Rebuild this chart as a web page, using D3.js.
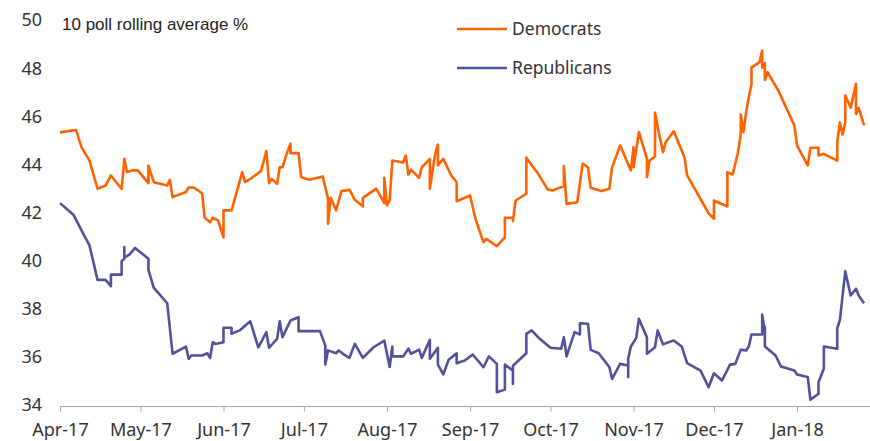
<!DOCTYPE html>
<html>
<head>
<meta charset="utf-8">
<script src="https://cdn.jsdelivr.net/npm/d3@7"></script>
<style>
  body { margin: 0; background: #fff; }
</style>
</head>
<body>
<div id="chart"></div>
<script>
// 10 poll rolling average, %
const democrats = [
  ["2017-04-01", 45.35], ["2017-04-07", 45.45], ["2017-04-09", 44.74], ["2017-04-12", 44.18],
  ["2017-04-15", 43.01], ["2017-04-18", 43.14], ["2017-04-20", 43.56], ["2017-04-24", 43.00],
  ["2017-04-25", 44.25], ["2017-04-26", 43.70], ["2017-04-28", 43.77], ["2017-04-30", 43.77],
  ["2017-05-04", 43.24], ["2017-05-04", 43.97], ["2017-05-06", 43.28], ["2017-05-11", 43.14],
  ["2017-05-12", 43.38], ["2017-05-13", 42.66], ["2017-05-18", 42.87], ["2017-05-19", 43.07],
  ["2017-05-21", 43.05], ["2017-05-24", 42.82], ["2017-05-25", 41.80], ["2017-05-27", 41.62],
  ["2017-05-28", 41.80], ["2017-05-30", 41.69], ["2017-06-01", 40.99], ["2017-06-01", 42.11],
  ["2017-06-04", 42.11], ["2017-06-08", 43.70], ["2017-06-09", 43.28], ["2017-06-11", 43.42],
  ["2017-06-15", 43.74], ["2017-06-17", 44.57], ["2017-06-18", 43.24], ["2017-06-19", 43.42],
  ["2017-06-21", 43.21], ["2017-06-22", 43.90], ["2017-06-23", 43.90], ["2017-06-25", 44.60],
  ["2017-06-26", 44.88], ["2017-06-26", 44.49], ["2017-06-29", 44.49], ["2017-06-30", 43.49],
  ["2017-07-03", 43.38], ["2017-07-08", 43.52], ["2017-07-10", 42.59], ["2017-07-10", 41.55],
  ["2017-07-11", 42.63], ["2017-07-13", 42.11], ["2017-07-15", 42.91], ["2017-07-18", 42.97],
  ["2017-07-20", 42.55], ["2017-07-23", 42.28], ["2017-07-23", 42.63], ["2017-07-28", 43.01],
  ["2017-07-31", 42.41], ["2017-07-31", 43.46], ["2017-08-01", 42.32], ["2017-08-02", 42.52],
  ["2017-08-03", 44.18], ["2017-08-07", 44.10], ["2017-08-08", 44.39], ["2017-08-09", 43.60],
  ["2017-08-10", 43.80], ["2017-08-13", 43.46], ["2017-08-14", 43.90], ["2017-08-17", 44.25],
  ["2017-08-17", 43.01], ["2017-08-19", 44.46], ["2017-08-20", 44.84], ["2017-08-20", 43.98],
  ["2017-08-22", 44.25], ["2017-08-25", 43.56], ["2017-08-27", 43.28], ["2017-08-27", 42.49],
  ["2017-09-01", 42.73], ["2017-09-03", 41.76], ["2017-09-06", 40.79], ["2017-09-07", 40.93],
  ["2017-09-11", 40.62], ["2017-09-14", 40.99], ["2017-09-14", 41.80], ["2017-09-17", 41.80],
  ["2017-09-17", 41.66], ["2017-09-18", 42.52], ["2017-09-22", 42.80], ["2017-09-22", 44.30],
  ["2017-09-25", 43.84], ["2017-09-26", 43.70], ["2017-09-30", 42.97], ["2017-10-02", 42.94],
  ["2017-10-06", 43.12], ["2017-10-06", 43.95], ["2017-10-07", 42.38], ["2017-10-11", 42.45],
  ["2017-10-13", 44.05], ["2017-10-15", 43.90], ["2017-10-16", 43.05], ["2017-10-20", 42.91],
  ["2017-10-23", 43.01], ["2017-10-24", 43.90], ["2017-10-27", 44.81], ["2017-10-31", 43.77],
  ["2017-11-01", 44.74], ["2017-11-01", 43.90], ["2017-11-03", 45.36], ["2017-11-06", 44.25],
  ["2017-11-06", 43.49], ["2017-11-07", 44.18], ["2017-11-09", 44.35], ["2017-11-09", 46.17],
  ["2017-11-10", 45.57], ["2017-11-12", 44.53], ["2017-11-13", 44.94], ["2017-11-16", 45.40],
  ["2017-11-20", 44.32], ["2017-11-21", 43.56], ["2017-11-29", 41.99], ["2017-12-01", 41.76],
  ["2017-12-01", 42.52], ["2017-12-06", 42.27], ["2017-12-06", 43.70], ["2017-12-08", 43.60],
  ["2017-12-10", 44.53], ["2017-12-11", 45.29], ["2017-12-11", 46.09], ["2017-12-12", 45.36],
  ["2017-12-13", 46.19], ["2017-12-14", 46.81], ["2017-12-15", 47.34], ["2017-12-15", 48.04],
  ["2017-12-18", 48.27], ["2017-12-19", 48.75], ["2017-12-19", 48.04], ["2017-12-20", 48.24],
  ["2017-12-20", 47.54], ["2017-12-21", 47.85], ["2017-12-25", 47.09], ["2017-12-31", 45.64],
  ["2018-01-01", 44.81], ["2018-01-05", 43.98], ["2018-01-06", 44.71], ["2018-01-09", 44.71],
  ["2018-01-09", 44.39], ["2018-01-11", 44.46], ["2018-01-16", 44.18], ["2018-01-16", 44.94],
  ["2018-01-17", 45.77], ["2018-01-18", 45.26], ["2018-01-19", 45.77], ["2018-01-19", 46.88],
  ["2018-01-21", 46.37], ["2018-01-23", 47.37], ["2018-01-23", 46.12], ["2018-01-24", 46.37],
  ["2018-01-26", 45.64]
];

const republicans = [
  ["2017-04-01", 42.41], ["2017-04-06", 41.93], ["2017-04-10", 41.07], ["2017-04-11", 40.86],
  ["2017-04-12", 40.65], ["2017-04-15", 39.22], ["2017-04-18", 39.22], ["2017-04-20", 38.96],
  ["2017-04-20", 39.44], ["2017-04-24", 39.44], ["2017-04-24", 40.00], ["2017-04-25", 40.10],
  ["2017-04-25", 40.58], ["2017-04-25", 40.14], ["2017-04-27", 40.28], ["2017-04-29", 40.55],
  ["2017-05-04", 40.10], ["2017-05-04", 39.64], ["2017-05-06", 38.89], ["2017-05-08", 38.64],
  ["2017-05-11", 38.25], ["2017-05-13", 36.15], ["2017-05-18", 36.45], ["2017-05-19", 35.94],
  ["2017-05-20", 36.08], ["2017-05-24", 36.08], ["2017-05-26", 36.17], ["2017-05-27", 35.98],
  ["2017-05-28", 36.63], ["2017-05-29", 36.56], ["2017-06-01", 36.63], ["2017-06-01", 37.23],
  ["2017-06-04", 37.23], ["2017-06-04", 36.98], ["2017-06-07", 37.12], ["2017-06-11", 37.50],
  ["2017-06-14", 36.42], ["2017-06-17", 37.05], ["2017-06-18", 36.40], ["2017-06-21", 36.77],
  ["2017-06-22", 37.50], ["2017-06-23", 36.84], ["2017-06-26", 37.53], ["2017-06-29", 37.67],
  ["2017-06-29", 37.09], ["2017-07-07", 37.09], ["2017-07-09", 36.49], ["2017-07-09", 35.70],
  ["2017-07-10", 36.29], ["2017-07-13", 36.17], ["2017-07-14", 36.29], ["2017-07-16", 36.11],
  ["2017-07-18", 35.98], ["2017-07-20", 36.56], ["2017-07-23", 35.98], ["2017-07-27", 36.42],
  ["2017-07-31", 36.70], ["2017-08-02", 35.60], ["2017-08-03", 36.45], ["2017-08-03", 36.04],
  ["2017-08-07", 36.04], ["2017-08-09", 36.36], ["2017-08-10", 36.15], ["2017-08-13", 36.32],
  ["2017-08-14", 35.98], ["2017-08-17", 36.73], ["2017-08-17", 35.94], ["2017-08-20", 36.40],
  ["2017-08-20", 35.70], ["2017-08-22", 35.29], ["2017-08-24", 35.90], ["2017-08-27", 36.17],
  ["2017-08-27", 35.76], ["2017-08-30", 35.87], ["2017-09-02", 36.12], ["2017-09-06", 35.59],
  ["2017-09-08", 36.04], ["2017-09-11", 35.73], ["2017-09-11", 34.55], ["2017-09-14", 34.66],
  ["2017-09-14", 35.70], ["2017-09-17", 35.45], ["2017-09-17", 34.90], ["2017-09-17", 35.65],
  ["2017-09-22", 36.17], ["2017-09-22", 36.98], ["2017-09-24", 37.12], ["2017-09-27", 36.77],
  ["2017-10-01", 36.40], ["2017-10-05", 36.36], ["2017-10-06", 36.84], ["2017-10-07", 36.04],
  ["2017-10-10", 37.05], ["2017-10-12", 36.95], ["2017-10-12", 37.42], ["2017-10-15", 37.40],
  ["2017-10-16", 36.31], ["2017-10-19", 36.17], ["2017-10-23", 35.59], ["2017-10-24", 35.11],
  ["2017-10-27", 35.73], ["2017-10-30", 35.66], ["2017-10-30", 35.18], ["2017-10-30", 35.94],
  ["2017-10-31", 36.45], ["2017-11-02", 36.81], ["2017-11-03", 37.60], ["2017-11-06", 36.84],
  ["2017-11-06", 36.15], ["2017-11-09", 36.42], ["2017-11-10", 37.12], ["2017-11-12", 36.54],
  ["2017-11-14", 36.63], ["2017-11-16", 36.70], ["2017-11-19", 36.45], ["2017-11-21", 35.76],
  ["2017-11-26", 35.45], ["2017-11-29", 34.76], ["2017-12-01", 35.34], ["2017-12-04", 35.04],
  ["2017-12-07", 35.70], ["2017-12-09", 35.73], ["2017-12-10", 36.04], ["2017-12-11", 36.32],
  ["2017-12-13", 36.29], ["2017-12-14", 36.45], ["2017-12-15", 36.95], ["2017-12-19", 36.95],
  ["2017-12-19", 37.78], ["2017-12-20", 37.05], ["2017-12-20", 37.28], ["2017-12-20", 36.45],
  ["2017-12-24", 36.08], ["2017-12-26", 35.62], ["2017-12-31", 35.45], ["2018-01-01", 35.29],
  ["2018-01-05", 35.18], ["2018-01-06", 34.24], ["2018-01-09", 34.49], ["2018-01-09", 34.97],
  ["2018-01-11", 35.53], ["2018-01-11", 36.45], ["2018-01-16", 36.36], ["2018-01-16", 37.19],
  ["2018-01-17", 37.56], ["2018-01-19", 39.58], ["2018-01-21", 38.57], ["2018-01-23", 38.85],
  ["2018-01-24", 38.57], ["2018-01-26", 38.25]
];

const monthTicks = ["2017-04-01", "2017-05-01", "2017-06-01", "2017-07-01", "2017-08-01",
  "2017-09-01", "2017-10-01", "2017-11-01", "2017-12-01", "2018-01-01"];
const yTicks = [34, 36, 38, 40, 42, 44, 46, 48, 50];
const seriesNames = ["Democrats", "Republicans"];
const seriesColors = ["#FF6200", "#525199"];

// Chart dimensions
const width = 870;
const height = 441;

const parseDate = d3.utcParse("%Y-%m-%d");
const toPoints = arr => arr.map(d => ({ date: parseDate(d[0]), value: d[1] }));
const series = [toPoints(democrats), toPoints(republicans)];

const svg = d3.select("#chart").append("svg")
    .attr("width", width)
    .attr("height", height)
    .style("font-family", "'Noto Sans', sans-serif");

// Scales
const x = d3.scaleUtc()
    .domain([parseDate("2017-04-01"), parseDate("2018-01-28")])
    .range([60, 869.4]);

const y = d3.scaleLinear()
    .domain([34, 50])
    .range([405.5, 20.5]);

// X axis
const xAxis = svg.append("g")
    .attr("transform", `translate(0,${Math.round(y(34)) + 0.5})`)
    .call(d3.axisBottom(x)
        .tickValues(monthTicks.map(parseDate))
        .tickFormat(d3.utcFormat("%b-%y"))
        .tickSize(5)
        .tickSizeOuter(0)
        .tickPadding(12));

xAxis.select(".domain").attr("stroke", "#a6a6a6").attr("d", `M${x.range()[0]},0H${width}`);
xAxis.selectAll(".tick line").attr("stroke", "#a6a6a6");
xAxis.selectAll(".tick text")
    .attr("font-size", "18px")
    .attr("font-family", "'Noto Sans', sans-serif")
    .attr("fill", "#333");

// Y labels (no axis line)
svg.append("g").selectAll("text")
    .data(yTicks)
    .join("text")
    .attr("x", 42)
    .attr("y", d => y(d))
    .attr("dy", "0.33em")
    .attr("text-anchor", "end")
    .attr("font-size", "18px")
    .attr("fill", "#333")
    .text(d => d);

// Title
svg.append("text")
    .attr("x", 62)
    .attr("y", 30)
    .attr("font-family", "'Liberation Sans', Arial, sans-serif")
    .attr("font-size", "17px")
    .attr("fill", "#222")
    .text("10 poll rolling average %");

// Lines
const line = d3.line()
    .x(d => x(d.date))
    .y(d => y(d.value));

svg.append("g").selectAll("path")
    .data(series)
    .join("path")
    .attr("fill", "none")
    .attr("stroke", (d, i) => seriesColors[i])
    .attr("stroke-width", 2.6)
    .attr("stroke-linejoin", "round")
    .attr("d", line);

// Legend
const legend = svg.append("g").selectAll("g")
    .data(seriesNames)
    .join("g")
    .attr("transform", (d, i) => `translate(457,${29 + i * 39})`);

legend.append("line")
    .attr("x1", 0)
    .attr("x2", 50)
    .attr("stroke", (d, i) => seriesColors[i])
    .attr("stroke-width", 2.6);

legend.append("text")
    .attr("x", 55)
    .attr("y", 6)
    .attr("font-size", "17.5px")
    .attr("fill", "#333")
    .text(d => d);
</script>
</body>
</html>
